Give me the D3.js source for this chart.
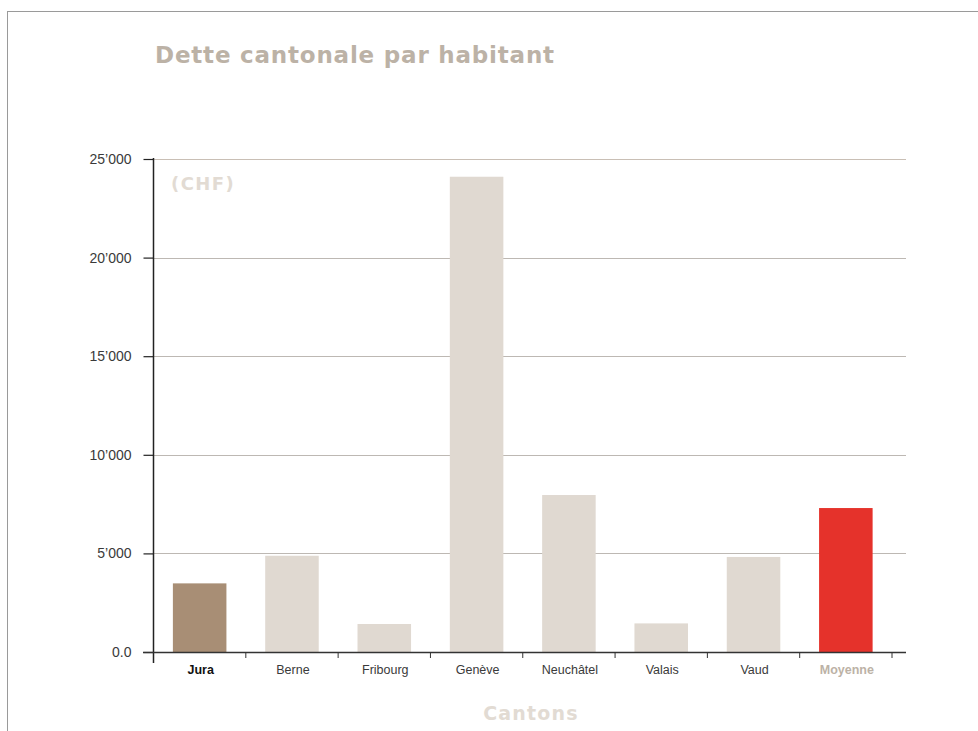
<!DOCTYPE html>
<html>
<head>
<meta charset="utf-8">
<script src="https://cdn.jsdelivr.net/npm/d3@7"></script>
<style>
  body { margin: 0; background: #fff; }
  svg { display: block; }
</style>
</head>
<body>
<div id="chart"></div>
<script>
// data
var cantons = ["Jura", "Berne", "Fribourg", "Genève", "Neuchâtel", "Valais", "Vaud", "Moyenne"];
var dette = [3480, 4880, 1420, 24100, 7960, 1450, 4820, 7300];
var yTicks = [0, 5000, 10000, 15000, 20000, 25000];
var yTickLabels = ["0.0", "5’000", "10’000", "15’000", "20’000", "25’000"];

var width = 978;
var height = 731;
var margin = ({top: 159, right: 86, bottom: 79, left: 153.5});

var svg = d3.select('#chart')
  .append('svg')
    .attr('width', width)
    .attr('height', height);

// frame
svg.append('rect')
  .attr('x', 7.5).attr('y', 11.5)
  .attr('width', width).attr('height', height)
  .attr('fill', 'none')
  .attr('stroke', '#9a9a9a');

var x = d3.scaleBand()
  .domain(cantons)
  .range([margin.left, 892])
  .paddingInner(0.42)
  .paddingOuter(0.21);

var y = d3.scaleLinear()
  .domain([0, 25000])
  .range([652, margin.top]);

var gridEnd = 906;

// gridlines
svg.append('g')
  .selectAll('line')
  .data(yTicks.slice(1))
  .join('line')
    .attr('x1', margin.left)
    .attr('x2', gridEnd)
    .attr('y1', d => Math.round(y(d)) + 0.5)
    .attr('y2', d => Math.round(y(d)) + 0.5)
    .attr('stroke', (d, i) => i == 4 ? '#c9bfb5' : '#bdb8b3')
    .attr('stroke-width', 1);

// bars
svg.append('g')
  .selectAll('rect')
  .data(cantons)
  .join('rect')
    .attr('x', d => x(d))
    .attr('y', (d, i) => y(dette[i]))
    .attr('width', x.bandwidth())
    .attr('height', (d, i) => y(0) - y(dette[i]))
    .attr('fill', d => d == 'Jura' ? '#a88e75' : (d == 'Moyenne' ? '#e5322b' : '#e0d9d1'));

// y axis
var yAxis = svg.append('g')
  .attr('transform', `translate(${margin.left},0)`)
  .call(d3.axisLeft(y).tickValues(yTicks).tickSize(10).tickPadding(12)
    .tickFormat((d, i) => yTickLabels[i]));
yAxis.select('.domain').remove();
yAxis.selectAll('.tick line').attr('stroke', '#222').attr('stroke-width', 1.2);
yAxis.selectAll('text')
  .attr('font-family', 'Liberation Sans, Arial, sans-serif')
  .attr('font-size', '14px')
  .attr('fill', '#3a3a3a');
yAxis.append('line')
  .attr('x1', 0).attr('x2', 0)
  .attr('y1', margin.top - 1)
  .attr('y2', 663)
  .attr('stroke', '#222')
  .attr('stroke-width', 1.5);

// x axis
var base = svg.append('g');
base.append('line')
  .attr('x1', 143).attr('x2', gridEnd)
  .attr('y1', y(0) + 0.5).attr('y2', y(0) + 0.5)
  .attr('stroke', '#333')
  .attr('stroke-width', 1.3);
base.selectAll('.sep')
  .data(cantons)
  .join('line')
    .attr('class', 'sep')
    .attr('x1', d => x(d) + x.bandwidth() + x.step() * 0.21)
    .attr('x2', d => x(d) + x.bandwidth() + x.step() * 0.21)
    .attr('y1', y(0))
    .attr('y2', y(0) + 6)
    .attr('stroke', '#333');

base.selectAll('.lbl')
  .data(cantons)
  .join('text')
    .attr('class', 'lbl')
    .attr('x', d => x(d) + x.bandwidth() / 2 + 1)
    .attr('y', 674)
    .attr('text-anchor', 'middle')
    .attr('font-family', 'Liberation Sans, Arial, sans-serif')
    .attr('font-size', '12.5px')
    .attr('font-weight', d => (d == 'Jura' || d == 'Moyenne') ? 'bold' : 'normal')
    .attr('fill', d => d == 'Jura' ? '#111' : (d == 'Moyenne' ? '#bcb2a6' : '#3a3a3a'))
    .text(d => d);

// titles
svg.append('text')
  .attr('x', 155)
  .attr('y', 63)
  .attr('font-family', 'DejaVu Sans, sans-serif')
  .attr('font-weight', 'bold')
  .attr('font-size', '23px')
  .attr('letter-spacing', '0.8px')
  .attr('fill', '#bcb2a6')
  .text('Dette cantonale par habitant');

svg.append('text')
  .attr('x', 171)
  .attr('y', 190)
  .attr('font-family', 'DejaVu Sans, sans-serif')
  .attr('font-weight', 'bold')
  .attr('font-size', '18px')
  .attr('letter-spacing', '1.4px')
  .attr('fill', '#e2dbd3')
  .text('(CHF)');

svg.append('text')
  .attr('x', 531)
  .attr('y', 720)
  .attr('text-anchor', 'middle')
  .attr('font-family', 'DejaVu Sans, sans-serif')
  .attr('font-weight', 'bold')
  .attr('font-size', '19px')
  .attr('letter-spacing', '1.2px')
  .attr('fill', '#e2dbd3')
  .text('Cantons');
</script>
</body>
</html>
